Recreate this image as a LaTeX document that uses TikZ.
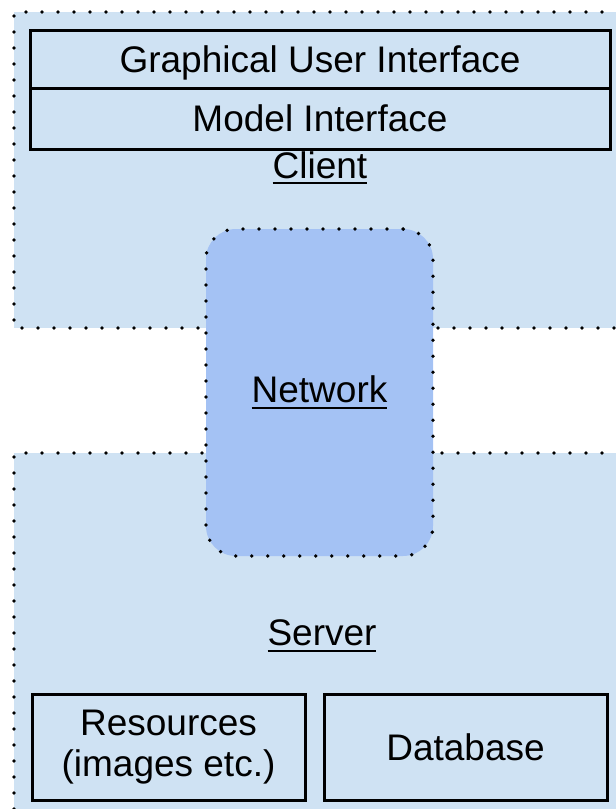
\documentclass[tikz,border=0pt]{standalone}
\usepackage{fontspec}
\setmainfont{Liberation Sans}
\definecolor{lightbg}{HTML}{CFE2F3}
\definecolor{netblue}{HTML}{A4C2F4}
\begin{document}
\begin{tikzpicture}[x=1pt,y=-1pt,
  dotline/.style={line width=3.8pt, line cap=round, dash pattern=on 0pt off 16pt},
  txt/.style={font=\fontsize{37}{41}\selectfont, inner sep=0pt, outer sep=0pt},
  solidbox/.style={txt, draw=black, line width=3pt, text height=26pt, text depth=0pt},
  ulline/.style={line width=2.4pt}]
\useasboundingbox (0,0) rectangle (616,809);
\clip (0,0) rectangle (616,809);
% client and server areas
\fill[lightbg] (14,12) rectangle (650,328);
\fill[lightbg] (14,453) rectangle (650,840);
\draw[dotline] (650,12) -- (14,12) -- (14,328) -- (650,328);
\draw[dotline] (650,453) -- (14,453) -- (14,840);
% network
\node[dotline, draw=black, fill=netblue, rounded corners=30pt, inner sep=0pt,
      minimum width=227pt, minimum height=327pt] (net) at (319.5,392.5) {};
\node[txt, anchor=base] (nettext) at (319.5,402) {Network};
\draw[ulline] ([yshift=-6pt]nettext.base west) -- ([yshift=-6pt]nettext.base east);
% client boxes
\node[solidbox, minimum width=580pt, minimum height=58pt] (gui) at (320,59) {Graphical User Interface};
\node[solidbox, minimum width=580pt, minimum height=61pt] (model) at (320,118.5) {Model Interface};
\node[txt, anchor=base] (client) at (320,178) {Client};
\draw[ulline] ([yshift=-5pt]client.base west) -- ([yshift=-5pt]client.base east);
% server
\node[txt, anchor=base] (server) at (322,645) {Server};
\draw[ulline] ([yshift=-6pt]server.base west) -- ([yshift=-6pt]server.base east);
\node[txt, draw=black, line width=3pt, align=center, minimum width=273pt, minimum height=106pt]
      (res) at (168.5,747) {Resources\\(images etc.)};
\node[solidbox, minimum width=283pt, minimum height=106pt] (db) at (465.5,747) {Database};
\end{tikzpicture}
\end{document}
